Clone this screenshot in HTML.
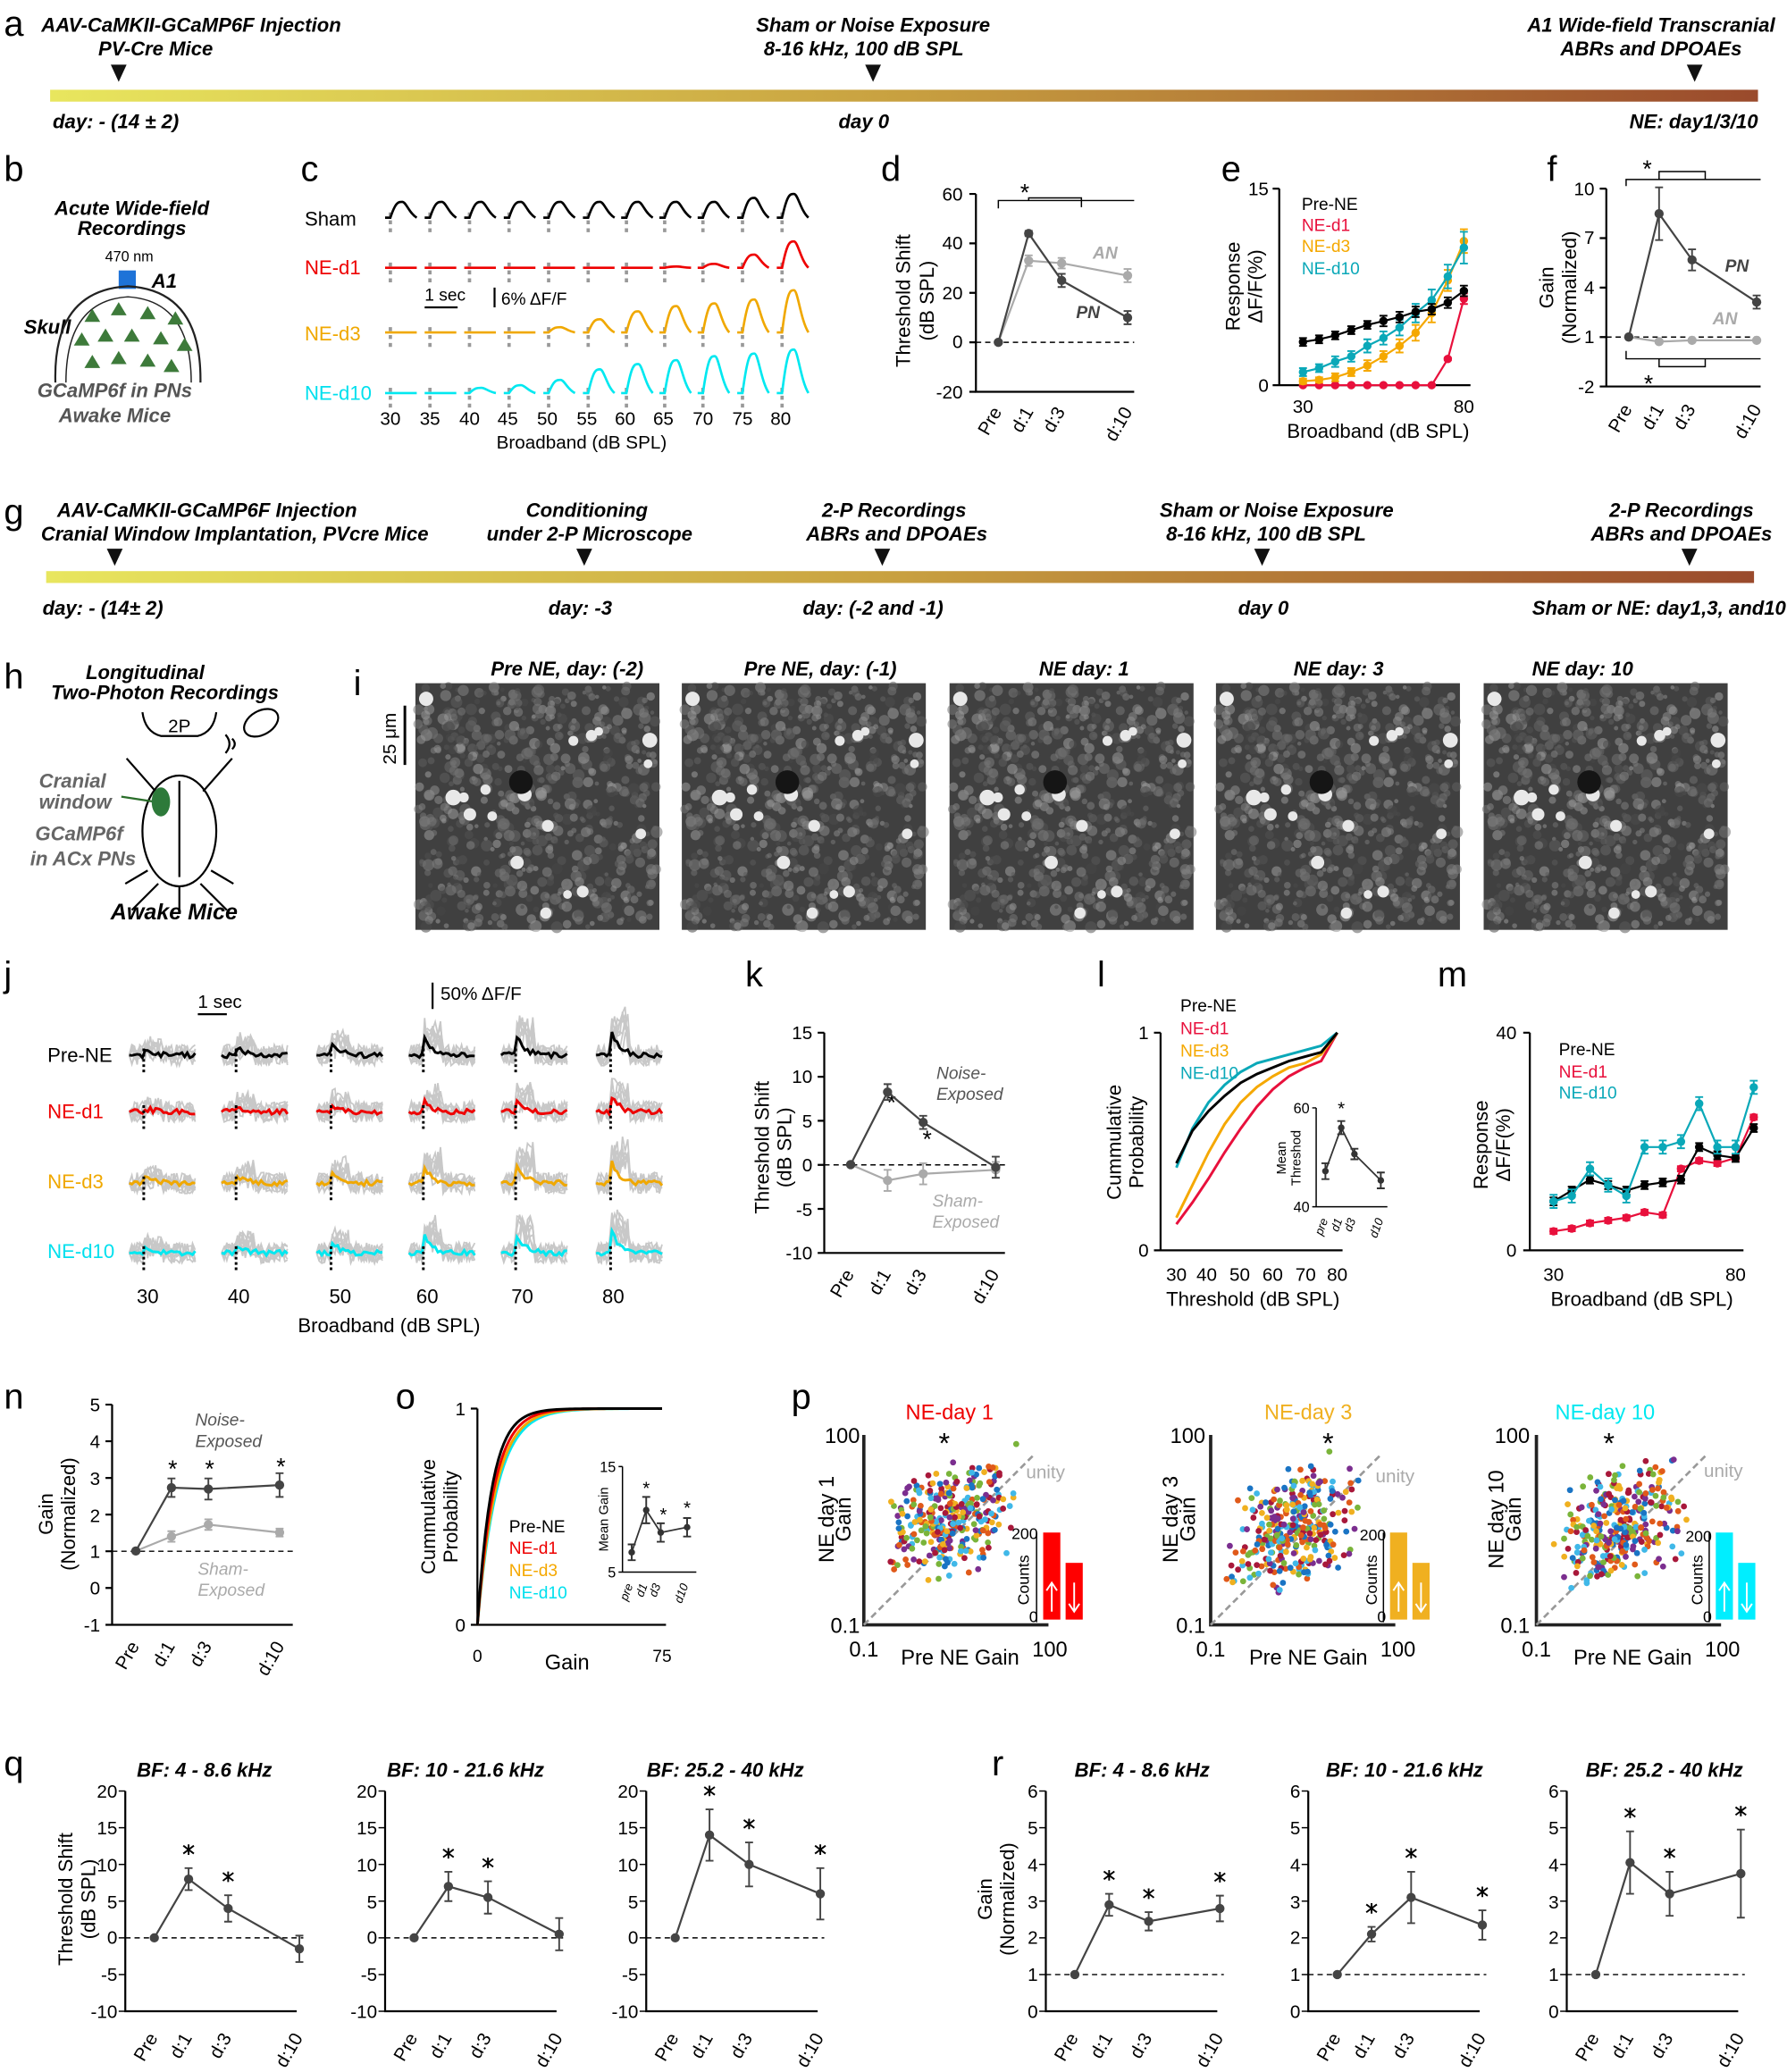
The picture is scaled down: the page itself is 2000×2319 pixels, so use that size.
<!DOCTYPE html>
<html><head><meta charset="utf-8"><style>
html,body{margin:0;padding:0;background:#fff}
svg{display:block}
text{font-family:"Liberation Sans",sans-serif}
.h{font-style:italic;font-weight:bold;font-size:15px;text-anchor:middle}
.L{font-size:27px;font-weight:normal}
.t{font-size:14px}
.m{text-anchor:middle}
.e{text-anchor:end}
</style></head><body>
<svg id="s" width="2000" height="2319" viewBox="0 0 1355 1571" xmlns="http://www.w3.org/2000/svg">
<defs>
<linearGradient id="gr" x1="0" x2="1"><stop offset="0" stop-color="#e8e65e"/><stop offset="0.5" stop-color="#c8a040"/><stop offset="1" stop-color="#9a4a2c"/></linearGradient>
</defs>
<rect width="1355" height="1571" fill="#fff"/>
<!-- a -->
<text x="3" y="27" class="L">a</text>
<text x="145" y="24" class="h">AAV-CaMKII-GCaMP6F Injection</text>
<text x="118" y="42" class="h">PV-Cre Mice</text>
<text x="662" y="24" class="h">Sham or Noise Exposure</text>
<text x="655" y="42" class="h">8-16 kHz, 100 dB SPL</text>
<text x="1252" y="24" class="h">A1 Wide-field Transcranial</text>
<text x="1252" y="42" class="h">ABRs and DPOAEs</text>
<path d="M84,49 L96,49 L90,62Z M656,49 L668,49 L662,62Z M1279,49 L1291,49 L1285,62Z" fill="#111"/>
<rect x="38" y="68" width="1295" height="9" fill="url(#gr)"/>
<text x="40" y="97" class="h" style="text-anchor:start">day: - (14 ± 2)</text>
<text x="655" y="97" class="h">day 0</text>
<text x="1333" y="97" class="h" style="text-anchor:end">NE: day1/3/10</text>
<!-- b -->
<text x="3" y="137" class="L">b</text>
<text x="100" y="163" class="h">Acute Wide-field</text>
<text x="100" y="178" class="h">Recordings</text>
<text x="98" y="198" class="m" font-size="11">470 nm</text>
<rect x="90" y="205" width="13" height="14" fill="#1e73d8"/>
<text x="115" y="218" class="h" style="text-anchor:start">A1</text>
<text x="18" y="253" class="h" style="text-anchor:start">Skull</text>
<path d="M42,290 Q40,220 97,217 Q153,220 152,290" fill="none" stroke="#222" stroke-width="1.5"/>
<path d="M50,290 Q50,228 97,225 Q145,228 145,290" fill="none" stroke="#222" stroke-width="1"/>
<g id="tri" fill="#3d7a3a"></g>
<text x="87" y="301" class="h" style="fill:#555">GCaMP6f in PNs</text>
<text x="87" y="320" class="h" style="fill:#555">Awake Mice</text>
<!-- c -->
<text x="228" y="137" class="L">c</text>
<text x="231" y="171" font-size="15">Sham</text>
<text x="231" y="208" font-size="15" fill="#e00">NE-d1</text>
<text x="231" y="258" font-size="15" fill="#f0a800">NE-d3</text>
<text x="231" y="303" font-size="15" fill="#00e0ee">NE-d10</text>
<g id="ctr"></g>
<path d="M322,233 L347,233 M375,218 L375,233" stroke="#000" stroke-width="1.5"/>
<text x="322" y="228" font-size="13">1 sec</text>
<text x="380" y="231" font-size="13">6% ΔF/F</text>
<g font-size="14" text-anchor="middle">
<text x="296" y="322">30</text><text x="326" y="322">35</text><text x="356" y="322">40</text><text x="385" y="322">45</text><text x="415" y="322">50</text><text x="445" y="322">55</text><text x="474" y="322">60</text><text x="503" y="322">65</text><text x="533" y="322">70</text><text x="563" y="322">75</text><text x="592" y="322">80</text>
<text x="441" y="340">Broadband (dB SPL)</text></g>
<!-- d -->
<text x="668" y="137" class="L">d</text>
<g stroke="#000" stroke-width="1.5" fill="none"><path d="M740,147 V297 H860"/>
<path d="M735,147h5M735,184.5h5M735,222h5M735,259.5h5M735,297h5"/></g>
<g font-size="14" text-anchor="end"><text x="730" y="152">60</text><text x="730" y="189">40</text><text x="730" y="227">20</text><text x="730" y="264">0</text><text x="730" y="302">-20</text></g>
<line x1="740" y1="259.5" x2="860" y2="259.5" stroke="#000" stroke-dasharray="4,3"/>
<path d="M757,158 V152 H860 M780,152 V150 H820 V157" stroke="#000" fill="none"/>
<text x="777" y="152" font-size="18" class="m">*</text>
<text transform="translate(690,228) rotate(-90)" class="m" font-size="15">Threshold Shift</text>
<text transform="translate(708,228) rotate(-90)" class="m" font-size="15">(dB SPL)</text>
<text x="838" y="196" class="h" style="fill:#aaa;font-size:13px">AN</text>
<text x="825" y="241" class="h" style="font-size:13px;fill:#444">PN</text>
<g font-size="14" text-anchor="end">
<text transform="translate(760,312) rotate(-60)">Pre</text><text transform="translate(784,312) rotate(-60)">d:1</text><text transform="translate(808,312) rotate(-60)">d:3</text><text transform="translate(859,312) rotate(-60)">d:10</text></g>
<!-- e -->
<text x="926" y="137" class="L">e</text>
<path d="M970,143 V292 H1115 M965,143h5 M965,292h5" stroke="#000" stroke-width="1.5" fill="none"/>
<text x="962" y="148" font-size="14" class="e">15</text><text x="962" y="297" font-size="14" class="e">0</text>
<text x="988" y="313" font-size="14" class="m">30</text><text x="1110" y="313" font-size="14" class="m">80</text>
<text x="1045" y="332" font-size="15" class="m">Broadband (dB SPL)</text>
<text transform="translate(940,217) rotate(-90)" class="m" font-size="15">Response</text>
<text transform="translate(957,217) rotate(-90)" class="m" font-size="15">ΔF/F(%)</text>
<g font-size="13"><text x="987" y="159">Pre-NE</text><text x="987" y="175" fill="#e8103c">NE-d1</text><text x="987" y="191" fill="#f5a800">NE-d3</text><text x="987" y="208" fill="#0aa8b8">NE-d10</text></g>
<!-- f -->
<text x="1173" y="137" class="L">f</text>
<path d="M1218,143 V293 H1335 M1213,143h5M1213,180.5h5M1213,218h5M1213,255.5h5M1213,293h5" stroke="#000" stroke-width="1.5" fill="none"/>
<g font-size="14" text-anchor="end"><text x="1209" y="148">10</text><text x="1209" y="185">7</text><text x="1209" y="223">4</text><text x="1209" y="260">1</text><text x="1209" y="298">-2</text></g>
<line x1="1218" y1="255.5" x2="1335" y2="255.5" stroke="#000" stroke-dasharray="4,3"/>
<path d="M1233,141 V136 H1335 M1258,136 V130 H1293 V136" stroke="#000" fill="none"/>
<text x="1249" y="134" font-size="18" class="m">*</text>
<path d="M1233,266 V272 H1335 M1258,272 V278 H1293 V272" stroke="#000" fill="none"/>
<text x="1250" y="297" font-size="18" class="m">*</text>
<text transform="translate(1178,218) rotate(-90)" class="m" font-size="15">Gain</text>
<text transform="translate(1195,218) rotate(-90)" class="m" font-size="15">(Normalized)</text>
<text x="1317" y="206" class="h" style="font-size:13px;fill:#444">PN</text>
<text x="1308" y="246" class="h" style="font-size:13px;fill:#aaa">AN</text>
<g font-size="14" text-anchor="end">
<text transform="translate(1238,310) rotate(-60)">Pre</text><text transform="translate(1262,310) rotate(-60)">d:1</text><text transform="translate(1286,310) rotate(-60)">d:3</text><text transform="translate(1336,310) rotate(-60)">d:10</text></g>
<!-- g -->
<text x="3" y="397" class="L">g</text>
<text x="157" y="392" class="h">AAV-CaMKII-GCaMP6F Injection</text>
<text x="178" y="410" class="h">Cranial Window Implantation, PVcre Mice</text>
<text x="445" y="392" class="h">Conditioning</text>
<text x="447" y="410" class="h">under 2-P Microscope</text>
<text x="678" y="392" class="h">2-P Recordings</text>
<text x="680" y="410" class="h">ABRs and DPOAEs</text>
<text x="968" y="392" class="h">Sham or Noise Exposure</text>
<text x="960" y="410" class="h">8-16 kHz, 100 dB SPL</text>
<text x="1275" y="392" class="h">2-P Recordings</text>
<text x="1275" y="410" class="h">ABRs and DPOAEs</text>
<path d="M81,416h12l-6,13Z M437,416h12l-6,13Z M663,416h12l-6,13Z M951,416h12l-6,13Z M1275,416h12l-6,13Z" fill="#111"/>
<rect x="35" y="433" width="1295" height="9" fill="url(#gr)"/>
<g class="h"><text x="78" y="466" class="h">day: - (14± 2)</text><text x="440" y="466" class="h">day: -3</text><text x="662" y="466" class="h">day: (-2 and -1)</text><text x="958" y="466" class="h">day 0</text><text x="1258" y="466" class="h">Sham or NE: day1,3, and10</text></g>
<!-- h -->
<text x="3" y="522" class="L">h</text>
<text x="110" y="515" class="h">Longitudinal</text>
<text x="125" y="530" class="h">Two-Photon Recordings</text>
<path d="M108,540 Q110,555 122,558 L150,558 Q162,555 164,540" fill="none" stroke="#000" stroke-width="1.5"/>
<text x="136" y="555" class="m" font-size="14">2P</text>
<g fill="none" stroke="#000" stroke-width="1.5">
<path d="M96,575 L118,600 M176,575 L154,600"/>
<ellipse cx="136" cy="630" rx="28" ry="42"/>
<path d="M136,592 V665 M120,670 L100,690 M152,670 L172,690 M112,660 L95,670 M160,660 L177,670 M136,672 V690"/>
<ellipse cx="198" cy="548" rx="14" ry="9" transform="rotate(-30 198 548)"/>
<path d="M176,560 q4,4 0,8 M171,557 q6,7 0,14"/>
<path d="M92,604 L118,608" stroke="#2a6e2a"/>
</g>
<ellipse cx="122" cy="608" rx="7" ry="11" fill="#2d7a3a"/>
<text x="55" y="597" class="h" style="fill:#666">Cranial</text>
<text x="57" y="613" class="h" style="fill:#666">window</text>
<text x="60" y="637" class="h" style="fill:#666">GCaMP6f</text>
<text x="63" y="656" class="h" style="fill:#666">in ACx PNs</text>
<text x="132" y="697" class="h" style="font-size:17px">Awake Mice</text>
<!-- i -->
<text x="268" y="527" class="L">i</text>
<g class="h"><text x="430" y="512" class="h">Pre NE, day: (-2)</text><text x="622" y="512" class="h">Pre NE, day: (-1)</text><text x="822" y="512" class="h">NE day:  1</text><text x="1015" y="512" class="h">NE day:  3</text><text x="1200" y="512" class="h">NE day:  10</text></g>
<line x1="307" y1="535" x2="307" y2="580" stroke="#000" stroke-width="2"/>
<text transform="translate(300,560) rotate(-90)" class="m" font-size="14">25 μm</text>
<g id="img"></g>
<!-- j -->
<text x="3" y="748" class="L">j</text>
<g font-size="15"><text x="36" y="805">Pre-NE</text><text x="36" y="848" fill="#e00">NE-d1</text><text x="36" y="901" fill="#f0a800">NE-d3</text><text x="36" y="954" fill="#00e0ee">NE-d10</text></g>
<g id="jtr"></g>
<path d="M150,769 H172 M328,745 V765" stroke="#000" stroke-width="1.5"/>
<text x="150" y="764" font-size="14">1 sec</text>
<text x="334" y="758" font-size="14">50% ΔF/F</text>
<g font-size="15" text-anchor="middle"><text x="112" y="988">30</text><text x="181" y="988">40</text><text x="258" y="988">50</text><text x="324" y="988">60</text><text x="396" y="988">70</text><text x="465" y="988">80</text>
<text x="295" y="1010">Broadband (dB SPL)</text></g>
<!-- k -->
<text x="565" y="748" class="L">k</text>
<path d="M625,783 V950 H762 M620,783h5M620,816.4h5M620,849.8h5M620,883.2h5M620,916.6h5M620,950h5" stroke="#000" stroke-width="1.5" fill="none"/>
<g font-size="14" text-anchor="end"><text x="616" y="788">15</text><text x="616" y="821">10</text><text x="616" y="855">5</text><text x="616" y="888">0</text><text x="616" y="922">-5</text><text x="616" y="955">-10</text></g>
<line x1="625" y1="883.2" x2="762" y2="883.2" stroke="#000" stroke-dasharray="4,3"/>
<text transform="translate(583,870) rotate(-90)" class="m" font-size="15">Threshold Shift</text>
<text transform="translate(600,870) rotate(-90)" class="m" font-size="15">(dB SPL)</text>
<text x="676" y="842" font-size="18" class="m">*</text><text x="703" y="870" font-size="18" class="m">*</text>
<g font-style="italic" font-size="13" fill="#555"><text x="710" y="818">Noise-</text><text x="710" y="834">Exposed</text></g>
<g font-style="italic" font-size="13" fill="#aaa"><text x="707" y="915">Sham-</text><text x="707" y="931">Exposed</text></g>
<g font-size="14" text-anchor="end">
<text transform="translate(648,966) rotate(-60)">Pre</text><text transform="translate(676,966) rotate(-60)">d:1</text><text transform="translate(703,966) rotate(-60)">d:3</text><text transform="translate(758,966) rotate(-60)">d:10</text></g>
<!-- l -->
<text x="832" y="748" class="L">l</text>
<path d="M880,783 V948 H1018 M875,783h5M875,948h5" stroke="#000" stroke-width="1.5" fill="none"/>
<text x="871" y="788" font-size="14" class="e">1</text><text x="871" y="953" font-size="14" class="e">0</text>
<g font-size="14" text-anchor="middle"><text x="892" y="971">30</text><text x="915" y="971">40</text><text x="940" y="971">50</text><text x="965" y="971">60</text><text x="990" y="971">70</text><text x="1014" y="971">80</text>
<text x="950" y="990" font-size="15">Threshold (dB SPL)</text></g>
<text transform="translate(850,866) rotate(-90)" class="m" font-size="15">Cummulative</text>
<text transform="translate(867,866) rotate(-90)" class="m" font-size="15">Probability</text>
<g font-size="13"><text x="895" y="767">Pre-NE</text><text x="895" y="784" fill="#e8103c">NE-d1</text><text x="895" y="801" fill="#f5a800">NE-d3</text><text x="895" y="818" fill="#0aa8b8">NE-d10</text></g>
<path d="M998,840 V915 H1052 M995,840h3M995,915h3" stroke="#000" fill="none"/>
<text x="993" y="844" font-size="11" class="e">60</text><text x="993" y="919" font-size="11" class="e">40</text>
<text transform="translate(975,878) rotate(-90)" class="m" font-size="10">Mean</text>
<text transform="translate(986,878) rotate(-90)" class="m" font-size="10">Threshod</text>
<text x="1017" y="845" font-size="14" class="m">*</text>
<g font-size="9" font-style="italic" text-anchor="end"><text transform="translate(1007,925) rotate(-70)">pre</text><text transform="translate(1018,925) rotate(-70)">d1</text><text transform="translate(1028,925) rotate(-70)">d3</text><text transform="translate(1049,925) rotate(-70)">d10</text></g>
<!-- m -->
<text x="1090" y="748" class="L">m</text>
<path d="M1160,783 V948 H1322 M1155,783h5M1155,948h5" stroke="#000" stroke-width="1.5" fill="none"/>
<text x="1150" y="788" font-size="14" class="e">40</text><text x="1150" y="953" font-size="14" class="e">0</text>
<text x="1178" y="971" font-size="14" class="m">30</text><text x="1316" y="971" font-size="14" class="m">80</text>
<text x="1245" y="990" font-size="15" class="m">Broadband (dB SPL)</text>
<text transform="translate(1128,868) rotate(-90)" class="m" font-size="15">Response</text>
<text transform="translate(1145,868) rotate(-90)" class="m" font-size="15">ΔF/F(%)</text>
<g font-size="13"><text x="1182" y="800">Pre-NE</text><text x="1182" y="817" fill="#e8103c">NE-d1</text><text x="1182" y="833" fill="#0aa8b8">NE-d10</text></g>
<!-- n -->
<text x="3" y="1068" class="L">n</text>
<path d="M85,1065 V1232 H222 M80,1065h5M80,1092.8h5M80,1120.6h5M80,1148.4h5M80,1176.2h5M80,1204h5M80,1232h5" stroke="#000" stroke-width="1.5" fill="none"/>
<g font-size="14" text-anchor="end"><text x="76" y="1070">5</text><text x="76" y="1098">4</text><text x="76" y="1126">3</text><text x="76" y="1154">2</text><text x="76" y="1181">1</text><text x="76" y="1209">0</text><text x="76" y="1237">-1</text></g>
<line x1="85" y1="1176.2" x2="222" y2="1176.2" stroke="#000" stroke-dasharray="4,3"/>
<text transform="translate(40,1148) rotate(-90)" class="m" font-size="15">Gain</text>
<text transform="translate(57,1148) rotate(-90)" class="m" font-size="15">(Normalized)</text>
<g font-size="18" text-anchor="middle"><text x="131" y="1120">*</text><text x="159" y="1120">*</text><text x="213" y="1118">*</text></g>
<g font-style="italic" font-size="13" fill="#555"><text x="148" y="1081">Noise-</text><text x="148" y="1097">Exposed</text></g>
<g font-style="italic" font-size="13" fill="#aaa"><text x="150" y="1194">Sham-</text><text x="150" y="1210">Exposed</text></g>
<g font-size="14" text-anchor="end">
<text transform="translate(106,1248) rotate(-60)">Pre</text><text transform="translate(133,1248) rotate(-60)">d:1</text><text transform="translate(161,1248) rotate(-60)">d:3</text><text transform="translate(216,1248) rotate(-60)">d:10</text></g>
<!-- o -->
<text x="300" y="1068" class="L">o</text>
<path d="M362,1068 V1232 H505 M357,1068h5M357,1232h5" stroke="#000" stroke-width="1.5" fill="none"/>
<text x="353" y="1073" font-size="14" class="e">1</text><text x="353" y="1237" font-size="14" class="e">0</text>
<text x="362" y="1260" font-size="13" class="m">0</text><text x="502" y="1260" font-size="13" class="m">75</text>
<text x="430" y="1266" font-size="16" class="m">Gain</text>
<text transform="translate(330,1150) rotate(-90)" class="m" font-size="15">Cummulative</text>
<text transform="translate(347,1150) rotate(-90)" class="m" font-size="15">Probability</text>
<g font-size="13"><text x="386" y="1162">Pre-NE</text><text x="386" y="1178" fill="#e00">NE-d1</text><text x="386" y="1195" fill="#f5a800">NE-d3</text><text x="386" y="1212" fill="#00e0ee">NE-d10</text></g>
<path d="M472,1112 V1192 H528 M469,1112h3M469,1192h3" stroke="#000" fill="none"/>
<text x="467" y="1116" font-size="11" class="e">15</text><text x="467" y="1196" font-size="11" class="e">5</text>
<text transform="translate(461,1152) rotate(-90)" class="m" font-size="10">Mean Gain</text>
<g font-size="14" text-anchor="middle"><text x="490" y="1133">*</text><text x="503" y="1153">*</text><text x="521" y="1148">*</text></g>
<g font-size="9" font-style="italic" text-anchor="end"><text transform="translate(480,1202) rotate(-70)">pre</text><text transform="translate(491,1202) rotate(-70)">d1</text><text transform="translate(501,1202) rotate(-70)">d3</text><text transform="translate(522,1202) rotate(-70)">d10</text></g>
<!-- p -->
<text x="600" y="1068" class="L">p</text>
<text x="720" y="1076" font-size="16" class="m" fill="#e00">NE-day 1</text>
<text x="992" y="1076" font-size="16" class="m" fill="#f0b020">NE-day 3</text>
<text x="1217" y="1076" font-size="16" class="m" fill="#00e8f0">NE-day 10</text>
<g id="pp"></g>
<g font-size="16">
<text x="652" y="1094" class="e">100</text><text x="652" y="1238" class="e">0.1</text><text x="655" y="1256" class="m">0.1</text><text x="796" y="1256" class="m">100</text><text x="728" y="1262" class="m">Pre NE Gain</text>
<text x="914" y="1094" class="e">100</text><text x="914" y="1238" class="e">0.1</text><text x="918" y="1256" class="m">0.1</text><text x="1060" y="1256" class="m">100</text><text x="992" y="1262" class="m">Pre NE Gain</text>
<text x="1160" y="1094" class="e">100</text><text x="1160" y="1238" class="e">0.1</text><text x="1165" y="1256" class="m">0.1</text><text x="1306" y="1256" class="m">100</text><text x="1238" y="1262" class="m">Pre NE Gain</text>
<text transform="translate(632,1152) rotate(-90)" class="m">NE day 1</text><text transform="translate(645,1152) rotate(-90)" class="m">Gain</text>
<text transform="translate(893,1152) rotate(-90)" class="m">NE day 3</text><text transform="translate(906,1152) rotate(-90)" class="m">Gain</text>
<text transform="translate(1140,1152) rotate(-90)" class="m">NE day 10</text><text transform="translate(1153,1152) rotate(-90)" class="m">Gain</text>
</g>
<g font-size="22" text-anchor="middle"><text x="716" y="1102">*</text><text x="1007" y="1102">*</text><text x="1220" y="1102">*</text></g>
<g font-size="14" fill="#aaa"><text x="778" y="1121">unity</text><text x="1043" y="1124">unity</text><text x="1292" y="1120">unity</text></g>
<g font-size="12"><text x="787" y="1167" class="e">200</text><text x="787" y="1230" class="e">0</text><text x="1051" y="1168" class="e">200</text><text x="1051" y="1230" class="e">0</text><text x="1298" y="1169" class="e">200</text><text x="1298" y="1230" class="e">0</text>
<text transform="translate(780,1198) rotate(-90)" class="m">Counts</text><text transform="translate(1044,1198) rotate(-90)" class="m">Counts</text><text transform="translate(1291,1198) rotate(-90)" class="m">Counts</text></g>
<!-- q r -->
<text x="3" y="1346" class="L">q</text>
<text x="752" y="1346" class="L">r</text>
<g class="h"><text x="155" y="1347" class="h">BF: 4 - 8.6 kHz</text><text x="353" y="1347" class="h">BF: 10 - 21.6 kHz</text><text x="550" y="1347" class="h">BF: 25.2 - 40 kHz</text>
<text x="866" y="1347" class="h">BF: 4 - 8.6 kHz</text><text x="1065" y="1347" class="h">BF: 10 - 21.6 kHz</text><text x="1262" y="1347" class="h">BF: 25.2 - 40 kHz</text></g>
<text transform="translate(55,1440) rotate(-90)" class="m" font-size="15">Threshold Shift</text>
<text transform="translate(72,1440) rotate(-90)" class="m" font-size="15">(dB SPL)</text>
<text transform="translate(752,1440) rotate(-90)" class="m" font-size="15">Gain</text>
<text transform="translate(769,1440) rotate(-90)" class="m" font-size="15">(Normalized)</text>
<g id="qr"></g>
</svg>
<script>
var S=document.getElementById('s'),NS='http://www.w3.org/2000/svg';
function E(p,t,a){var e=document.createElementNS(NS,t);for(var k in a)e.setAttribute(k,a[k]);(typeof p=='string'?document.getElementById(p):p).appendChild(e);return e;}
var seed=7;function R(){seed=(seed*16807)%2147483647;return seed/2147483647;}
var G=S;
[[70,240],[90,235],[112,238],[133,242],[62,258],[80,255],[100,255],[122,257],[140,262],[70,275],[90,272],[112,274],[130,278]].forEach(function(p){E('tri','path',{d:'M'+p[0]+','+(p[1]-6)+'l6,10h-12z'});});
var cx=[292,322,352,382,412,442,471,500,529,559,589];
var rows=[[165,'#000',[12,12,12,12,12,12,12,12,12,15,18]],[203,'#e00',[0,0,0,0,0,0,0,1,3,10,20]],[252,'#f0a800',[0,0,0,0,4,10,16,20,22,25,32]],[298,'#00e8f0',[0,0,4,6,10,18,22,25,28,30,33]]];
rows.forEach(function(r){cx.forEach(function(x,i){var y=r[0],A=r[2][i];
E(G,'line',{x1:x+4,y1:y-4,x2:x+4,y2:y+12,stroke:'#999','stroke-width':2.5,'stroke-dasharray':'3,3'});
E(G,'path',{d:'M'+x+','+y+' L'+(x+4)+','+y+' C'+(x+8)+','+(y-A)+' '+(x+10)+','+(y-A)+' '+(x+13)+','+(y-A)+' S'+(x+18)+','+(y-A*0.3)+' '+(x+24)+','+y,fill:'none',stroke:r[1],'stroke-width':1.8});});});
// microscope images
[315,517,720,922,1125].forEach(function(x){var y=518;E('img','rect',{x:x,y:y,width:185,height:187,fill:'#404040'});
seed=11;for(var i=0;i<700;i++){var g=Math.floor(70+R()*90);E('img','circle',{cx:x+2+R()*181,cy:y+2+R()*183,r:1.5+R()*3,fill:'rgb('+g+','+g+','+g+')','fill-opacity':0.55});}
seed=99;for(var i=0;i<18;i++){E('img','circle',{cx:x+8+R()*170,cy:y+8+R()*172,r:3+R()*3,fill:'#e8e8e8'});}
E('img','circle',{cx:x+80,cy:y+75,r:9,fill:'#151515'});});
// j traces
var jx=[98,168,240,310,380,452],jy=[[800,'#000'],[843,'#e00'],[897,'#f0a800'],[950,'#00e8f0']];
seed=5;
jy.forEach(function(r,ri){jx.forEach(function(x,ci){var amp=[4,6,8,12,14,16][ci]*(ri==1?0.7:1);
for(var k=0;k<7;k++){var d='M'+x+','+r[0];for(var t=1;t<=25;t++){var xx=x+t*2,pk=(t>=6&&t<=12)?amp*(0.5+1.3*R()):0;d+=' L'+xx+','+(r[0]+(R()-0.5)*16-pk);}E(G,'path',{d:d,fill:'none',stroke:'#c8c8c8','stroke-width':1.2});}
var d='M'+x+','+r[0];for(var t=1;t<=25;t++){var xx=x+t*2,pk=t>=6&&t<=14?amp*Math.exp(-(t-6)/3):0;d+=' L'+xx+','+(r[0]+(R()-0.5)*4-pk);}
E(G,'path',{d:d,fill:'none',stroke:r[1],'stroke-width':2});
E(G,'line',{x1:x+11,y1:r[0]-5,x2:x+11,y2:r[0]+14,stroke:'#000','stroke-width':2,'stroke-dasharray':'2,2'});});});
function ser(pts,col,r,w){var d='';pts.forEach(function(p,i){d+=(i?'L':'M')+p[0]+','+p[1];});E(G,'path',{d:d,fill:'none',stroke:col,'stroke-width':w||1.5});
pts.forEach(function(p){if(p[2]){E(G,'path',{d:'M'+p[0]+','+(p[1]-p[2])+'V'+(p[1]+p[2])+'M'+(p[0]-3)+','+(p[1]-p[2])+'h6M'+(p[0]-3)+','+(p[1]+p[2])+'h6',stroke:col,fill:'none','stroke-width':1.3});}E(G,'circle',{cx:p[0],cy:p[1],r:r||3.5,fill:col});});}
ser([[757,259.5],[780,197.6,4],[805,199.5,4],[855,208.9,5]],'#aaa');
ser([[757,259.5],[780,177,2],[805,212.6,5],[855,240.8,5]],'#444');
function ep(v,c,e){var pts=v.map(function(a,i){return[988+i*12.2,292-a*9.93,e?e[i]:2];});ser(pts,c,3.2);}
ep([0,0,0,0,0,0,0,0,0,2.0,6.6],'#e8103c',[0,0,0,0,0,0,0,0,0,1,4]);
ep([0.3,0.4,0.6,1,1.5,2.2,3,4,5.5,8,11],'#f5a800',[2,2,3,3,4,4,5,6,7,8,9]);
ep([1,1.3,1.8,2.2,3,3.6,4.4,5.5,6.5,8.3,10.5],'#0aa8b8',[3,3,4,4,5,5,6,7,8,9,12]);
ep([3.3,3.5,3.8,4.2,4.6,4.9,5.2,5.6,5.8,6.3,7.2],'#000',[3,3,3,3,3,4,4,4,4,4,4]);
ser([[1235,255.5],[1258,259],[1283,258],[1332,258]],'#aaa');
ser([[1235,255.5],[1258,162,20],[1283,197,8],[1332,229,5]],'#444');
ser([[645,883],[673,895,8],[700,890,8],[755,887,6]],'#aaa');
ser([[645,883],[673,828,6],[700,851,5],[755,885,8]],'#444');
function cdf(col,a){var d='M892,'+(948-a[0]*165);a.forEach(function(v,i){d+=' L'+(892+i*12.2)+','+(948-v*165);});E(G,'path',{d:d,fill:'none',stroke:col,'stroke-width':2});}
cdf('#e8103c',[0.12,0.22,0.33,0.45,0.56,0.66,0.74,0.8,0.84,0.87,1]);
cdf('#f5a800',[0.15,0.3,0.45,0.58,0.68,0.75,0.8,0.84,0.86,0.9,1]);
cdf('#0aa8b8',[0.38,0.56,0.68,0.76,0.82,0.86,0.88,0.9,0.92,0.94,1]);
cdf('#000',[0.4,0.55,0.64,0.71,0.77,0.81,0.84,0.87,0.89,0.91,1]);
ser([[1005,888,6],[1017,855,5],[1027,875,4],[1047,895,6]],'#333',2.5,1.2);
function mp(v,c,e){ser(v.map(function(a,i){return[1178+i*13.8,948-a*4.12,e];}),c,3.2);}
mp([3.5,4,5,5.5,6,7,6.5,15,16.5,16,17,24.5],'#e8103c',2);
mp([9,11,13,12,11,12,12.5,13,19,17.5,17,22.5],'#000',3);
mp([9,10,15,12,10,19,19,20,27,19,19,30],'#0aa8b8',5);
ser([[103,1176],[130,1165,4],[158,1156,4],[212,1162,3]],'#aaa');
ser([[103,1176],[130,1128,7],[158,1129,8],[212,1126,9]],'#444');
function oc(c,k){var d='M362,1232';for(var t=0;t<=70;t++){var x=362+t*2;d+=' L'+x+','+(1232-164*(1-Math.exp(-t/k)));}E(G,'path',{d:d,fill:'none',stroke:c,'stroke-width':2});}
oc('#00e8f0',7.5);oc('#f5a800',7);oc('#e00',6.3);oc('#000',5.5);
ser([[479,1177,6],[490,1145,10],[501,1162,7],[521,1158,7]],'#333',2.5,1.2);
var cols=['#e05a1a','#7b2e8f','#1a74c4','#7ab43a','#a8183a','#f0b020','#40b8e8'];
[[655,'#f00'],[918,'#f0b020'],[1165,'#00eeff']].forEach(function(q,pi){var x0=q[0],y0=1088;
E(G,'path',{d:'M'+x0+','+y0+'V1232H'+(x0+140),stroke:'#222','stroke-width':2.5,fill:'none'});
E(G,'line',{x1:x0,y1:1232,x2:x0+130,y2:1102,stroke:'#999','stroke-width':1.8,'stroke-dasharray':'5,3'});
seed=31+pi;for(var i=0;i<330;i++){var u=(R()+R())/2,v=(R()+R())/2;var cx=x0+18+u*95+(R()-.5)*20,cy=1232-(28+v*95+(u-.5)*35+(pi==0?5:0));E(G,'circle',{cx:cx,cy:cy,r:2.3,fill:cols[i%7]});}
var bx=x0+117;E(G,'path',{d:'M'+(bx+14)+',1162V1230',stroke:'#000',fill:'none'});
E(G,'rect',{x:bx+19,y:1162,width:13,height:66,fill:q[1]});E(G,'rect',{x:bx+36,y:1185,width:13,height:43,fill:q[1]});
E(G,'path',{d:'M'+(bx+25.5)+',1222V1200m-4,6l4,-6l4,6M'+(bx+42.5)+',1200V1222m-4,-6l4,6l4,-6',stroke:'#fff','stroke-width':1.3,fill:'none'});});
function panel(ax,isQ,vals,errs,stars){var y0=1358,y1=1525;var g=E('qr','g',{});
E(g,'path',{d:'M'+ax+','+y0+'V'+y1+'H'+(ax+130),stroke:'#000','stroke-width':1.5,fill:'none'});
var ticks=isQ?[20,15,10,5,0,-5,-10]:[6,5,4,3,2,1,0];var mn=isQ?-10:0,mx=isQ?20:6;var Y=function(v){return y1-(v-mn)/(mx-mn)*(y1-y0);};
var base=isQ?0:1;E(g,'line',{x1:ax,y1:Y(base),x2:ax+135,y2:Y(base),stroke:'#000','stroke-dasharray':'4,3'});
ticks.forEach(function(t){E(g,'line',{x1:ax-5,y1:Y(t),x2:ax,y2:Y(t),stroke:'#000'});});
var xs=[ax+22,ax+48,ax+78,ax+132];ser(xs.map(function(x,i){return[x,Y(vals[i]),errs[i]*(y1-y0)/(mx-mn)];}),'#444',3.5);
stars.forEach(function(s){if(s>0)E(g,'path',{d:'M'+xs[s]+','+(Y(vals[s]+errs[s])-14)+'m-4,-3l8,6m0,-6l-8,6m4,-7v8',stroke:'#000','stroke-width':1.3});});}
panel(95,1,[0,8,4,-1.5],[0,1.5,1.8,1.8],[0,1,2]);
panel(292,1,[0,7,5.5,0.5],[0,2,2.2,2.2],[0,1,2]);
panel(490,1,[0,14,10,6],[0,3.5,3,3.5],[0,1,2,3]);
panel(793,0,[1,2.9,2.45,2.8],[0,0.3,0.25,0.35],[0,1,2,3]);
panel(992,0,[1,2.1,3.1,2.35],[0,0.2,0.7,0.4],[0,1,2,3]);
panel(1188,0,[1,4.05,3.2,3.75],[0,0.85,0.6,1.2],[0,1,2,3]);
</script>
<div style="position:absolute;left:0;top:0;width:2000px;height:2319px;pointer-events:none">
<svg width="2000" height="2319" viewBox="0 0 1355 1571" style="position:absolute;left:0;top:0">
<g font-family="Liberation Sans" font-size="14" text-anchor="end">
<text x="89" y="1363">20</text><text x="89" y="1391">15</text><text x="89" y="1419">10</text><text x="89" y="1447">5</text><text x="89" y="1474">0</text><text x="89" y="1502">-5</text><text x="89" y="1530">-10</text>
<text x="286" y="1363">20</text><text x="286" y="1391">15</text><text x="286" y="1419">10</text><text x="286" y="1447">5</text><text x="286" y="1474">0</text><text x="286" y="1502">-5</text><text x="286" y="1530">-10</text>
<text x="484" y="1363">20</text><text x="484" y="1391">15</text><text x="484" y="1419">10</text><text x="484" y="1447">5</text><text x="484" y="1474">0</text><text x="484" y="1502">-5</text><text x="484" y="1530">-10</text>
<text x="787" y="1363">6</text><text x="787" y="1391">5</text><text x="787" y="1419">4</text><text x="787" y="1447">3</text><text x="787" y="1474">2</text><text x="787" y="1502">1</text><text x="787" y="1530">0</text>
<text x="986" y="1363">6</text><text x="986" y="1391">5</text><text x="986" y="1419">4</text><text x="986" y="1447">3</text><text x="986" y="1474">2</text><text x="986" y="1502">1</text><text x="986" y="1530">0</text>
<text x="1182" y="1363">6</text><text x="1182" y="1391">5</text><text x="1182" y="1419">4</text><text x="1182" y="1447">3</text><text x="1182" y="1474">2</text><text x="1182" y="1502">1</text><text x="1182" y="1530">0</text>
<text transform="translate(120,1545) rotate(-60)">Pre</text><text transform="translate(146,1545) rotate(-60)">d:1</text><text transform="translate(176,1545) rotate(-60)">d:3</text><text transform="translate(230,1545) rotate(-60)">d:10</text>
<text transform="translate(317,1545) rotate(-60)">Pre</text><text transform="translate(343,1545) rotate(-60)">d:1</text><text transform="translate(373,1545) rotate(-60)">d:3</text><text transform="translate(427,1545) rotate(-60)">d:10</text>
<text transform="translate(515,1545) rotate(-60)">Pre</text><text transform="translate(541,1545) rotate(-60)">d:1</text><text transform="translate(571,1545) rotate(-60)">d:3</text><text transform="translate(625,1545) rotate(-60)">d:10</text>
<text transform="translate(818,1545) rotate(-60)">Pre</text><text transform="translate(844,1545) rotate(-60)">d:1</text><text transform="translate(874,1545) rotate(-60)">d:3</text><text transform="translate(928,1545) rotate(-60)">d:10</text>
<text transform="translate(1017,1545) rotate(-60)">Pre</text><text transform="translate(1043,1545) rotate(-60)">d:1</text><text transform="translate(1073,1545) rotate(-60)">d:3</text><text transform="translate(1127,1545) rotate(-60)">d:10</text>
<text transform="translate(1213,1545) rotate(-60)">Pre</text><text transform="translate(1239,1545) rotate(-60)">d:1</text><text transform="translate(1269,1545) rotate(-60)">d:3</text><text transform="translate(1323,1545) rotate(-60)">d:10</text>
</g></svg></div>
</body></html>
